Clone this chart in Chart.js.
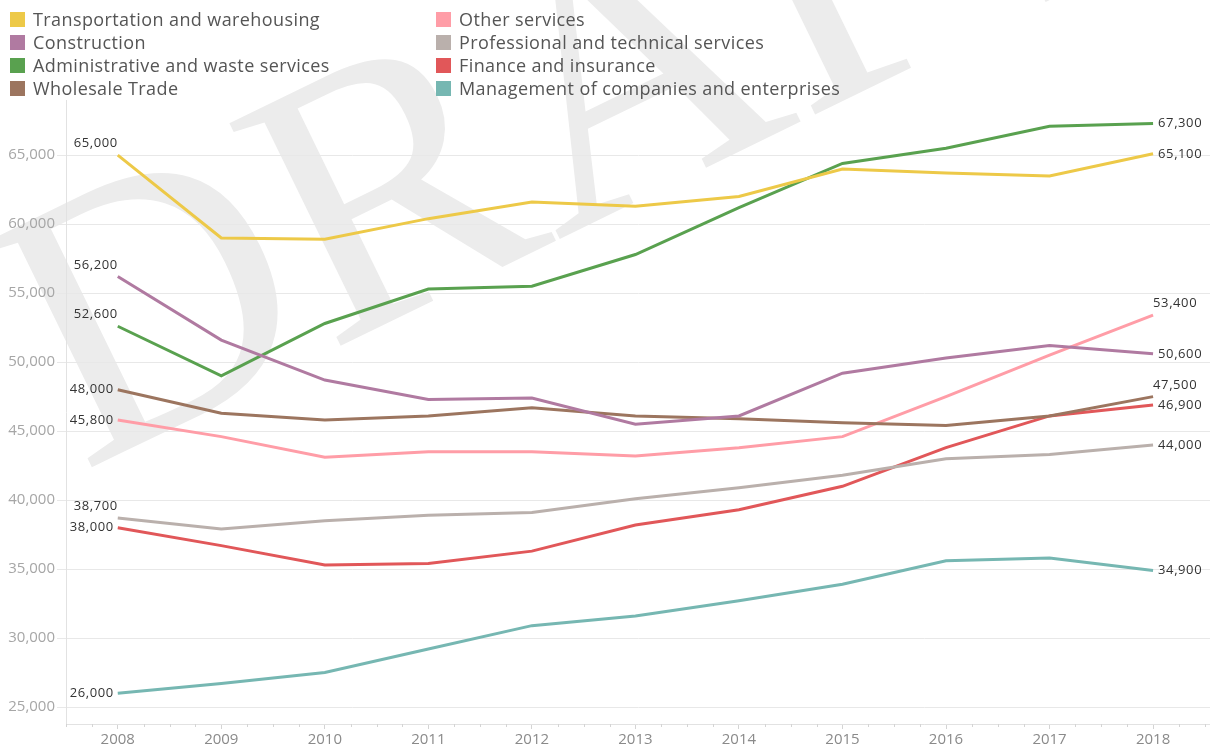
<!DOCTYPE html>
<html>
<head>
<meta charset="utf-8">
<script src="https://cdn.jsdelivr.net/npm/chart.js@4"></script>
<style>
  html, body { margin: 0; padding: 0; background: #fff; }
  #wrap { position: relative; width: 1210px; height: 748px; overflow: hidden; }
  #c { position: absolute; left: 0; top: 0; }
  .legend { position: absolute; top: 0; left: 0; font-family: "Open Sans", sans-serif; font-size: 18px; letter-spacing: 0.4px; color: #555; }
  .item { position: absolute; height: 23px; line-height: 23px; white-space: nowrap; }
  .sw { position: absolute; left: 0; top: 4px; width: 15px; height: 15px; }
  .txt { position: absolute; left: 23px; top: 0; }
</style>
</head>
<body>
<div id="wrap">
  <canvas id="c" width="1210" height="748"></canvas>
  <div class="legend" id="legend"></div>
</div>
<script>
// ---- data ----
const years = [2008, 2009, 2010, 2011, 2012, 2013, 2014, 2015, 2016, 2017, 2018];
const seriesNames = [
  "Transportation and warehousing",
  "Construction",
  "Administrative and waste services",
  "Wholesale Trade",
  "Other services",
  "Professional and technical services",
  "Finance and insurance",
  "Management of companies and enterprises"
];
const transportation = [65000, 59000, 58900, 60400, 61600, 61300, 62000, 64000, 63700, 63500, 65100];
const construction   = [56200, 51600, 48700, 47300, 47400, 45500, 46100, 49200, 50300, 51200, 50600];
const administrative = [52600, 49000, 52800, 55300, 55500, 57800, 61200, 64400, 65500, 67100, 67300];
const wholesale      = [48000, 46300, 45800, 46100, 46700, 46100, 45900, 45600, 45400, 46100, 47500];
const otherServices  = [45800, 44600, 43100, 43500, 43500, 43200, 43800, 44600, 47500, 50500, 53400];
const professional   = [38700, 37900, 38500, 38900, 39100, 40100, 40900, 41800, 43000, 43300, 44000];
const finance        = [38000, 36700, 35300, 35400, 36300, 38200, 39300, 41000, 43800, 46100, 46900];
const management     = [26000, 26700, 27500, 29200, 30900, 31600, 32700, 33900, 35600, 35800, 34900];
const yTicks = [25000, 30000, 35000, 40000, 45000, 50000, 55000, 60000, 65000];

// ---- styles ----
const colors = ["#EDC948", "#B07AA1", "#59A14F", "#9C755F", "#FF9DA7", "#BAB0AC", "#E15759", "#76B7B2"];
const startPos = ["above", "above", "above", "left", "left", "above", "left", "left"];
const endPos   = ["right", "right", "right", "above", "above", "right", "right", "right"];
const allValues = [transportation, construction, administrative, wholesale, otherServices, professional, finance, management];

// legend (HTML, real text)
const leg = document.getElementById('legend');
seriesNames.forEach((name, i) => {
  const col = Math.floor(i / 4), row = i % 4;
  const d = document.createElement('div');
  d.className = 'item';
  d.style.left = (col === 0 ? 10 : 436) + 'px';
  d.style.top = (8 + row * 23) + 'px';
  d.innerHTML = '<span class="sw" style="background:' + colors[i] + '"></span><span class="txt"></span>';
  d.querySelector('.txt').textContent = name;
  leg.appendChild(d);
});

const fmt = v => v.toLocaleString('en-US');

const watermark = {
  id: 'watermark',
  beforeDraw(chart) {
    const ctx = chart.ctx;
    ctx.save();
    ctx.fillStyle = '#fff';
    ctx.fillRect(0, 0, chart.width, chart.height);
    ctx.translate(82, 472);
    ctx.rotate(-26 * Math.PI / 180);
    ctx.font = '380px "Liberation Serif", serif';
    ctx.fillStyle = '#ececec';
    ctx.textBaseline = 'alphabetic';
    ctx.fillText('DRAFT', 0, 0);
    ctx.restore();
  }
};

const minorTicks = {
  id: 'minorTicks',
  afterDraw(chart) {
    const xs = chart.scales.x;
    const ctx = chart.ctx;
    ctx.save();
    ctx.strokeStyle = '#d4d4d4';
    ctx.lineWidth = 1;
    const y0 = xs.top;
    for (let v = xs.min; v <= xs.max + 1e-9; v += 0.25) {
      const q = Math.round(v * 4) / 4;
      if (q < xs.min - 1e-9) continue;
      if (Math.abs(q - Math.round(q)) < 1e-9) continue;
      const px = Math.round(xs.getPixelForValue(q)) + 0.5;
      ctx.beginPath();
      ctx.moveTo(px, y0);
      ctx.lineTo(px, y0 + 3);
      ctx.stroke();
    }
    ctx.restore();
  }
};

const endLabels = {
  id: 'endLabels',
  afterDatasetsDraw(chart) {
    const ctx = chart.ctx;
    ctx.save();
    ctx.font = '13px "Open Sans", sans-serif';
    if ('letterSpacing' in ctx) ctx.letterSpacing = '0.6px';
    ctx.fillStyle = '#333';
    chart.data.datasets.forEach((ds, i) => {
      const meta = chart.getDatasetMeta(i);
      const first = meta.data[0], last = meta.data[meta.data.length - 1];
      const v0 = ds.data[0].y, v1 = ds.data[ds.data.length - 1].y;
      if (startPos[i] === 'above') {
        ctx.textAlign = 'right'; ctx.textBaseline = 'bottom';
        ctx.fillText(fmt(v0), first.x, first.y - 5);
      } else {
        ctx.textAlign = 'right'; ctx.textBaseline = 'middle';
        ctx.fillText(fmt(v0), first.x - 4, first.y);
      }
      if (endPos[i] === 'above') {
        ctx.textAlign = 'left'; ctx.textBaseline = 'bottom';
        ctx.fillText(fmt(v1), last.x, last.y - 5);
      } else {
        ctx.textAlign = 'left'; ctx.textBaseline = 'middle';
        ctx.fillText(fmt(v1), last.x + 5, last.y);
      }
    });
    ctx.restore();
  }
};

const datasets = seriesNames.map((name, i) => ({
  label: name,
  data: years.map((yr, k) => ({ x: yr, y: allValues[i][k] })),
  borderColor: colors[i],
  backgroundColor: colors[i],
  borderWidth: 3,
  pointRadius: 0,
  pointHoverRadius: 0,
  tension: 0,
  fill: false,
  clip: false
}));

new Chart(document.getElementById('c'), {
  type: 'line',
  data: { datasets },
  plugins: [watermark, minorTicks, endLabels],
  options: {
    responsive: false,
    animation: false,
    events: [],
    layout: { padding: { top: 100, right: 0, left: 0, bottom: 0 } },
    plugins: { legend: { display: false }, tooltip: { enabled: false } },
    scales: {
      x: {
        type: 'linear',
        min: 2007.5,
        max: 2018.55,
        afterFit(s) { s.height = 24; },
        ticks: {
          stepSize: 1,
          includeBounds: false,
          autoSkip: false,
          maxRotation: 0,
          padding: 2,
          color: '#8a8a8a',
          font: { family: '"Open Sans", sans-serif', size: 15 },
          callback: v => String(v)
        },
        grid: { drawOnChartArea: false, drawTicks: true, tickLength: 5, color: '#d4d4d4' },
        border: { display: true, color: '#e2e2e2' }
      },
      y: {
        type: 'linear',
        min: 23770,
        max: 69000,
        afterFit(s) { s.width = 66; },
        afterBuildTicks(s) { s.ticks = yTicks.map(v => ({ value: v })); },
        ticks: {
          includeBounds: false,
          padding: 2,
          color: '#a6a6a6',
          font: { family: '"Open Sans", sans-serif', size: 15 },
          callback: v => fmt(v)
        },
        grid: { color: '#e8e8e8', tickLength: 9, drawTicks: true, tickColor: '#e8e8e8' },
        border: { display: true, color: '#e2e2e2' }
      }
    }
  }
});
</script>
</body>
</html>
